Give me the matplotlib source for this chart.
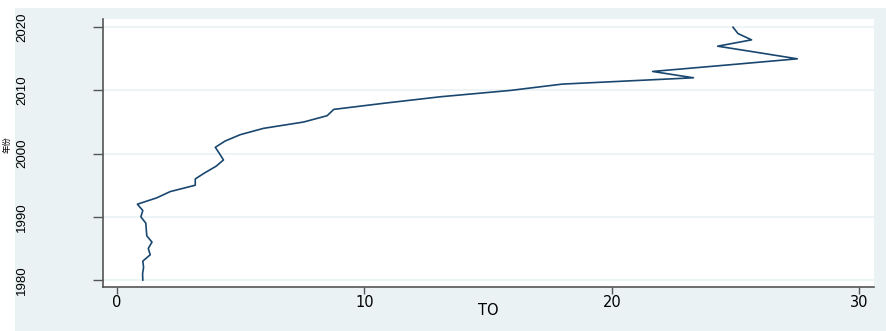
import matplotlib
matplotlib.use('Agg')
import matplotlib.pyplot as plt
from matplotlib.patches import Rectangle

plt.rcParams['font.family'] = ['DejaVu Sans']

# 年份与 TO 指标
years = list(range(1980, 2021))
to_vals = [1.04, 1.03, 1.07, 1.04, 1.34, 1.26, 1.41, 1.20, 1.18, 1.16,
           0.96, 1.04, 0.82, 1.60, 2.15, 3.16, 3.16, 3.56, 4.00, 4.30,
           4.14, 3.97, 4.37, 4.98, 5.92, 7.54, 8.49, 8.76, 10.85, 13.08,
           15.90, 18.00, 23.30, 21.65, 24.60, 27.50, 25.90, 24.28, 25.65, 25.10,
           24.90]
x_ticks = [0, 10, 20, 30]
y_ticks = [1980, 1990, 2000, 2010, 2020]

W, H = 886, 331
BG = '#EAF2F3'
NAVY = '#1A476F'

fig = plt.figure(figsize=(W / 100, H / 100), dpi=100, facecolor='white')
bg = Rectangle((15 / W, 0), 1 - 15 / W, (H - 8) / H, transform=fig.transFigure,
               facecolor=BG, edgecolor='none', zorder=-10)
fig.add_artist(bg)

ax = fig.add_axes([103 / W, (H - 287) / H, (874 - 103) / W, (287 - 19) / H])
ax.set_zorder(1)
ax.set_facecolor('white')
ax.plot(to_vals, years, color=NAVY, linewidth=1.2)

ax.set_xlim(-0.57, 30.6)
ax.set_ylim(1978.9, 2021.3)
ax.set_xticks(x_ticks)
ax.set_yticks(y_ticks, labels=[str(y) for y in y_ticks], rotation=90,
              va='center', ha='center', family=['Liberation Sans', 'DejaVu Sans'],
              fontsize=9.5)
ax.grid(axis='y', color=BG, linewidth=1.2)
ax.set_axisbelow(True)

for s in ['top', 'right']:
    ax.spines[s].set_visible(False)
for s in ['left', 'bottom']:
    ax.spines[s].set_color('#555555')
    ax.spines[s].set_linewidth(1.2)

ax.tick_params(axis='x', direction='out', length=5, width=1, color='#555555',
               labelsize=10.5, pad=1)
ax.tick_params(axis='y', direction='out', length=7, width=1, color='#555555',
               pad=51)

ax.set_xlabel('TO', fontsize=10.5, labelpad=-5)
ax.set_ylabel('年份', fontsize=6, family=['Noto Sans CJK SC', 'DejaVu Sans'])
ax.yaxis.set_label_coords(-(103 - 12) / 771, 0.53)

fig.savefig('out.png', dpi=100, facecolor='white')
